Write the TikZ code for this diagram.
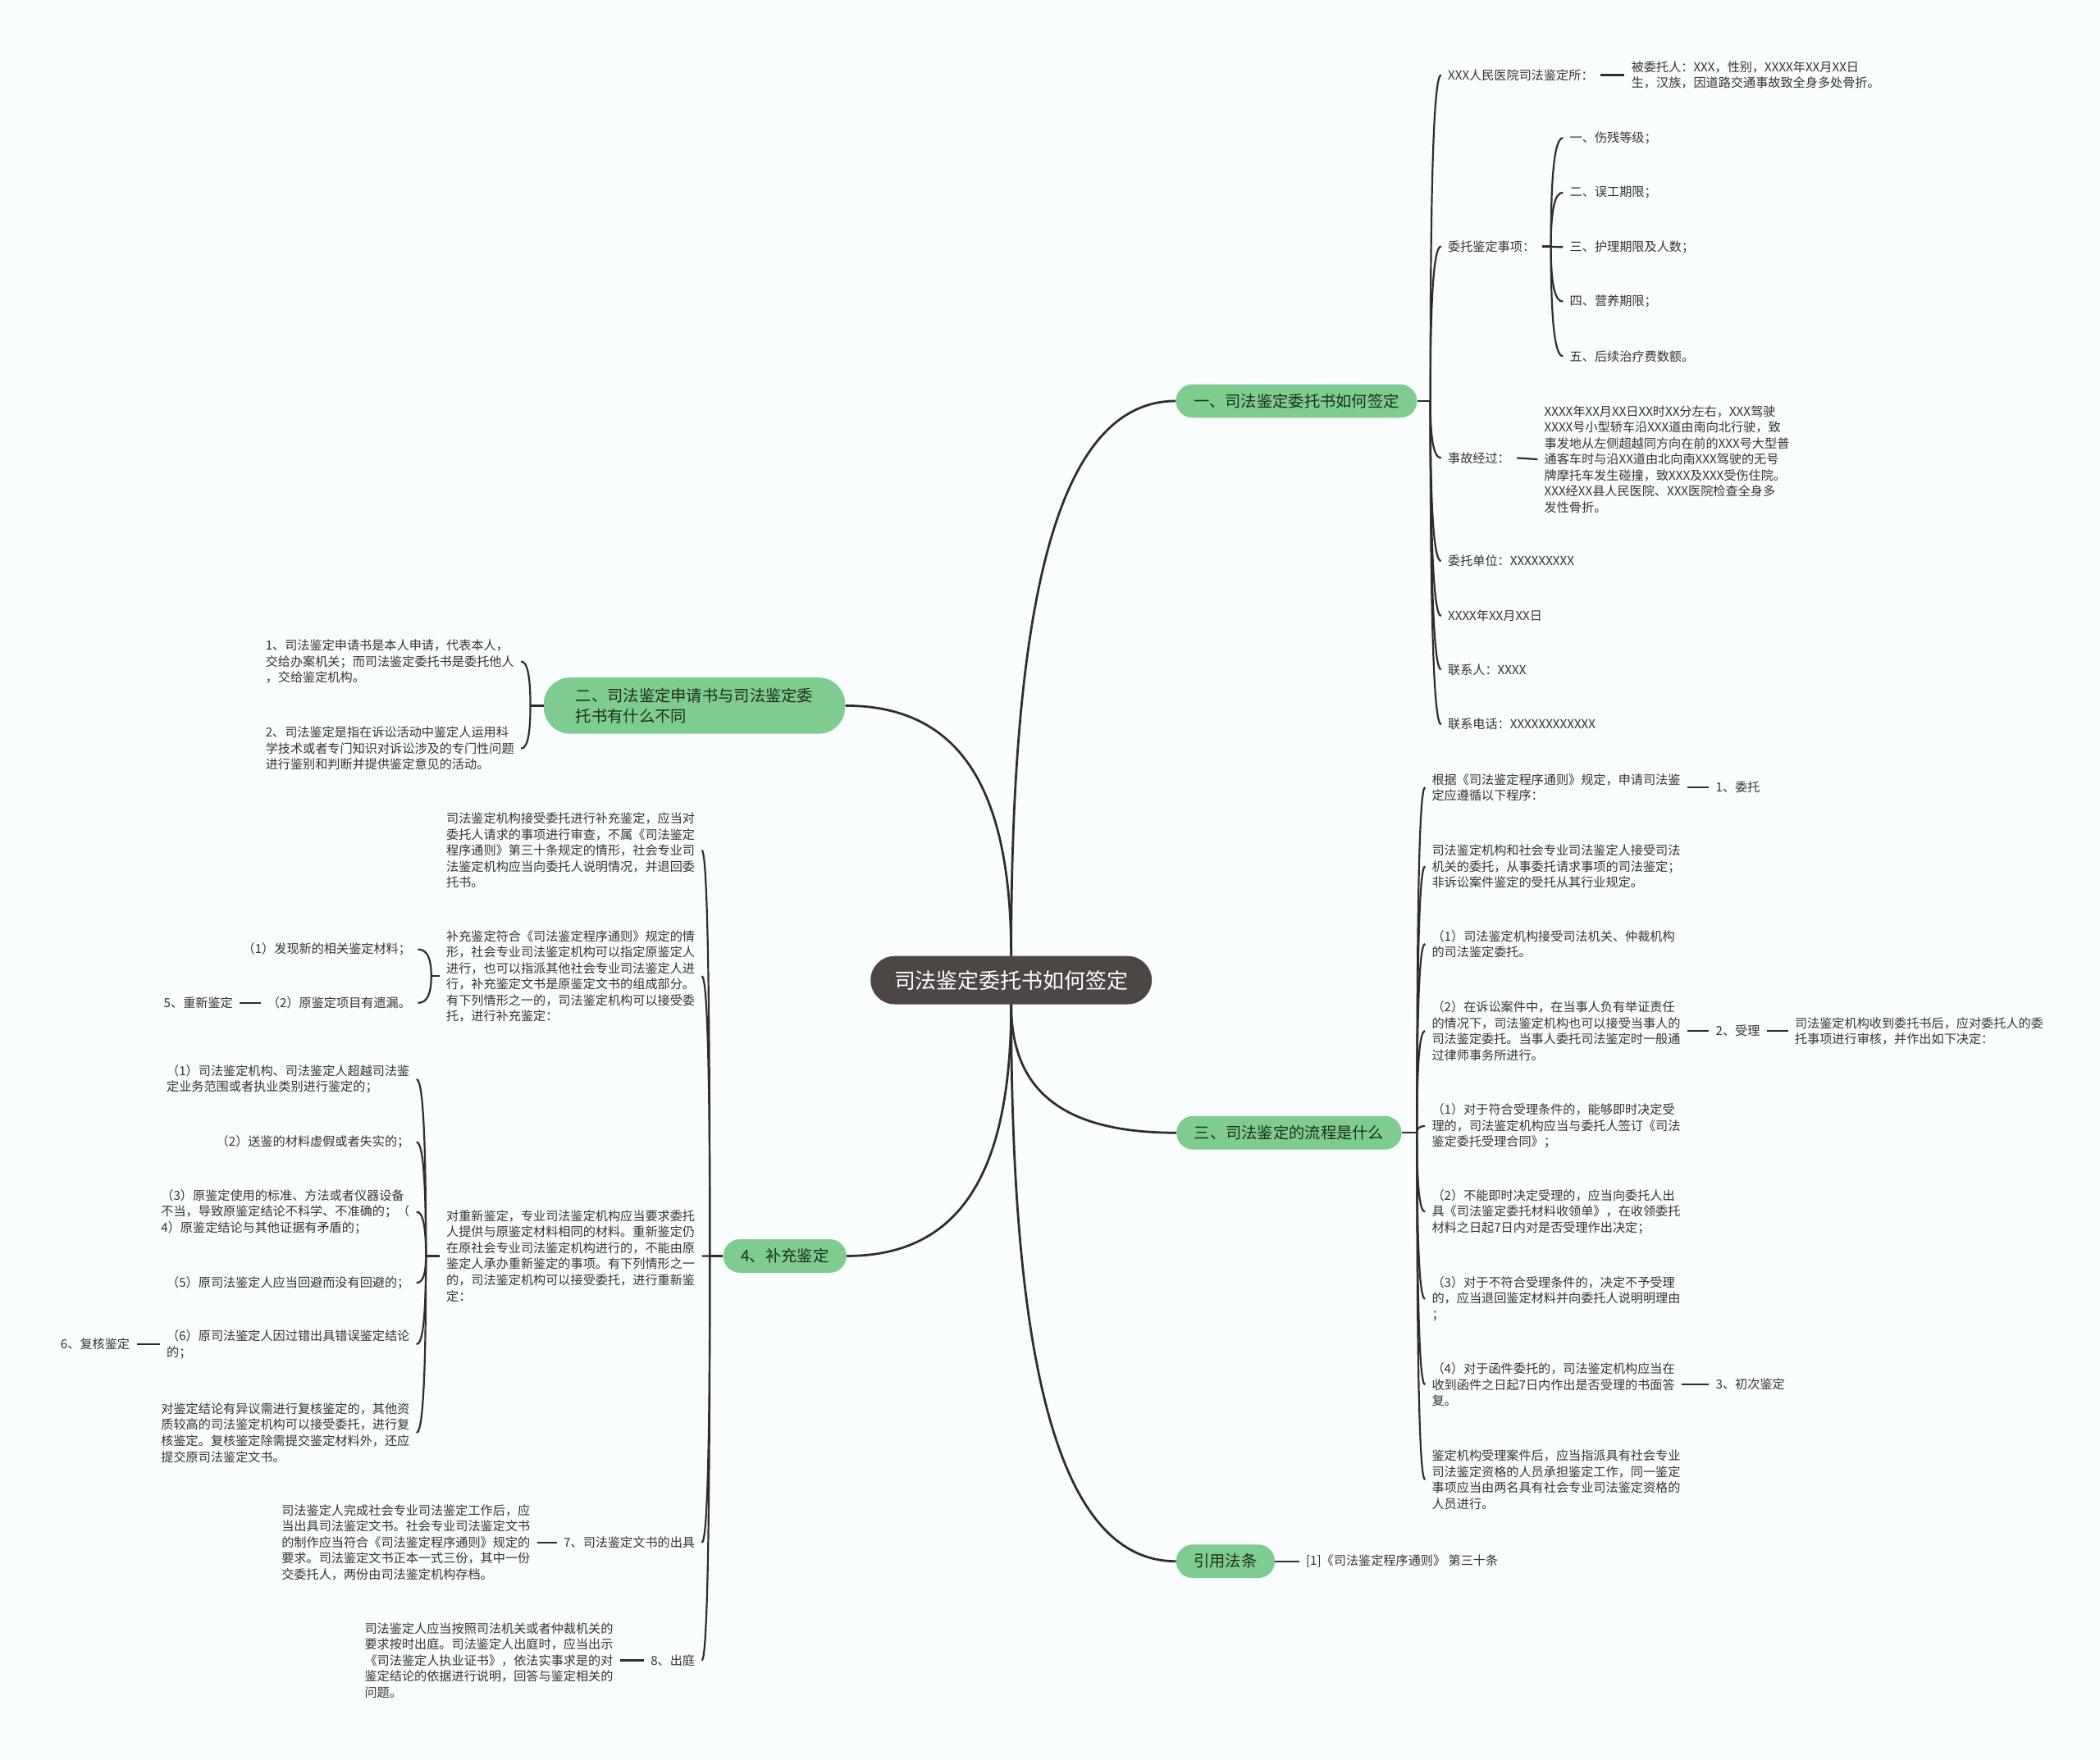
\documentclass[tikz,border=0pt]{standalone}
\usepackage{fontspec}
\setmainfont{Noto Sans CJK SC}
\usepackage{tikz}
\usepackage{xcolor}
\usetikzlibrary{calc}
\definecolor{cBg}{RGB}{250,253,253}
\definecolor{cInk}{RGB}{51,51,51}
\definecolor{cLine}{RGB}{45,45,45}
\definecolor{cTopic}{RGB}{126,204,144}
\definecolor{cTopicInk}{RGB}{28,46,33}
\definecolor{cRoot}{RGB}{76,70,68}
\tikzset{
	root/.style ={rectangle, rounded corners=0.9cm, minimum width=10.5cm, minimum height=1.8cm, fill=cRoot, text=white, font=\fontsize{22.6pt}{27pt}\selectfont},
	topic/.style={rectangle, rounded corners=0.62cm, minimum height=1.25cm, inner xsep=0.66cm, fill=cTopic, text=cTopicInk, font=\fontsize{16.8pt}{21.3pt}\selectfont},
	leaf/.style ={align=left, inner xsep=0.25cm, inner ysep=0.1cm, text=cInk, font=\fontsize{13.2pt}{17pt}\selectfont},
	% connectors: first down/up, then bend into the target
	limb/.style ={to path={.. controls ($(\tikztostart)!.64!(\tikztostart |- \tikztotarget)$) and ($(\tikztostart |- \tikztotarget)!.28!(\tikztotarget)$) .. (\tikztotarget)}},
	wire/.style ={draw=cLine, line width=1.9pt},
}
\begin{document}
\begin{tikzpicture}[x=0.05cm, y=-0.05cm]
	\fill[cBg] (0,0) rectangle (1568,1314);
	\useasboundingbox (0,0) rectangle (1568,1314);

	\node[root] (root) at (755,732) {司法鉴定委托书如何签定};
	\node[topic] (b1) at (968,299.5) {一、司法鉴定委托书如何签定};
	\node[topic, align=left, minimum height=2.1cm, inner xsep=1.2cm, rounded corners=1cm] (b2) at (518.5,527) {二、司法鉴定申请书与司法鉴定委\\托书有什么不同};
	\node[topic] (b3) at (962.5,846) {三、司法鉴定的流程是什么};
	\node[topic] (b4) at (586,938) {4、补充鉴定};
	\node[topic] (b5) at (915,1166) {引用法条};

	% branch one
	\coordinate (j1) at (1068,299.5);
	\node[leaf, anchor=west] (c11) at (1076,56) {XXX人民医院司法鉴定所：};
	\node[leaf, anchor=west] (d11) at (1213,56) {被委托人：XXX，性别，XXXX年XX月XX日\\生，汉族，因道路交通事故致全身多处骨折。};
	\node[leaf, anchor=west] (c12) at (1076,184) {委托鉴定事项：};
	\coordinate (j12) at (1158,184);
	\foreach \t [count=\i] in {一、伤残等级；,二、误工期限；,三、护理期限及人数；,四、营养期限；,五、后续治疗费数额。}
		\node[leaf, anchor=west] (s\i) at (1167,{103+40.75*(\i-1)}) {\t};
	\node[leaf, anchor=west] (c13) at (1076,342) {事故经过：};
	\node[leaf, anchor=west] (d13) at (1148,343) {XXXX年XX月XX日XX时XX分左右，XXX驾驶\\XXXX号小型轿车沿XXX道由南向北行驶，致\\事发地从左侧超越同方向在前的XXX号大型普\\通客车时与沿XX道由北向南XXX驾驶的无号\\牌摩托车发生碰撞，致XXX及XXX受伤住院。\\XXX经XX县人民医院、XXX医院检查全身多\\发性骨折。};
	\node[leaf, anchor=west] (c14) at (1076,419) {委托单位：XXXXXXXXX};
	\node[leaf, anchor=west] (c15) at (1076,460) {XXXX年XX月XX日};
	\node[leaf, anchor=west] (c16) at (1076,500) {联系人：XXXX};
	\node[leaf, anchor=west] (c17) at (1076,541) {联系电话：XXXXXXXXXXXX};

	% branch two
	\coordinate (j2) at (396,527);
	\node[leaf, anchor=east] (e21) at (389,494) {1、司法鉴定申请书是本人申请，代表本人，\\交给办案机关；而司法鉴定委托书是委托他人\\，交给鉴定机构。};
	\node[leaf, anchor=east] (e22) at (389,559) {2、司法鉴定是指在诉讼活动中鉴定人运用科\\学技术或者专门知识对诉讼涉及的专门性问题\\进行鉴别和判断并提供鉴定意见的活动。};

	% branch three
	\coordinate (j3) at (1058,846);
	\node[leaf, anchor=west] (f31) at (1064,588) {根据《司法鉴定程序通则》规定，申请司法鉴\\定应遵循以下程序：};
	\node[leaf, anchor=west] (g31) at (1276,588) {1、委托};
	\node[leaf, anchor=west] (f32) at (1064,647) {司法鉴定机构和社会专业司法鉴定人接受司法\\机关的委托，从事委托请求事项的司法鉴定；\\非诉讼案件鉴定的受托从其行业规定。};
	\node[leaf, anchor=west] (f33) at (1064,705) {（1）司法鉴定机构接受司法机关、仲裁机构\\的司法鉴定委托。};
	\node[leaf, anchor=west] (f34) at (1064,770) {（2）在诉讼案件中，在当事人负有举证责任\\的情况下，司法鉴定机构也可以接受当事人的\\司法鉴定委托。当事人委托司法鉴定时一般通\\过律师事务所进行。};
	\node[leaf, anchor=west] (g34) at (1276,770) {2、受理};
	\node[leaf, anchor=west] (h34) at (1335,770) {司法鉴定机构收到委托书后，应对委托人的委\\托事项进行审核，并作出如下决定：};
	\node[leaf, anchor=west] (f35) at (1064,841) {（1）对于符合受理条件的，能够即时决定受\\理的，司法鉴定机构应当与委托人签订《司法\\鉴定委托受理合同》；};
	\node[leaf, anchor=west] (f36) at (1064,905) {（2）不能即时决定受理的，应当向委托人出\\具《司法鉴定委托材料收领单》，在收领委托\\材料之日起7日内对是否受理作出决定；};
	\node[leaf, anchor=west] (f37) at (1064,970) {（3）对于不符合受理条件的，决定不予受理\\的，应当退回鉴定材料并向委托人说明明理由\\；};
	\node[leaf, anchor=west] (f38) at (1064,1034) {（4）对于函件委托的，司法鉴定机构应当在\\收到函件之日起7日内作出是否受理的书面答\\复。};
	\node[leaf, anchor=west] (g38) at (1276,1034) {3、初次鉴定};
	\node[leaf, anchor=west] (f39) at (1064,1105) {鉴定机构受理案件后，应当指派具有社会专业\\司法鉴定资格的人员承担鉴定工作，同一鉴定\\事项应当由两名具有社会专业司法鉴定资格的\\人员进行。};

	% branch 4
	\coordinate (j4) at (530,938);
	\node[leaf, anchor=east] (k41) at (524,635) {司法鉴定机构接受委托进行补充鉴定，应当对\\委托人请求的事项进行审查，不属《司法鉴定\\程序通则》第三十条规定的情形，社会专业司\\法鉴定机构应当向委托人说明情况，并退回委\\托书。};
	\node[leaf, anchor=east] (k42) at (524,729) {补充鉴定符合《司法鉴定程序通则》规定的情\\形，社会专业司法鉴定机构可以指定原鉴定人\\进行，也可以指派其他社会专业司法鉴定人进\\行，补充鉴定文书是原鉴定文书的组成部分。\\有下列情形之一的，司法鉴定机构可以接受委\\托，进行补充鉴定：};
	\coordinate (j42) at (322,729);
	\node[leaf, anchor=east] (m1) at (312,709) {（1）发现新的相关鉴定材料；};
	\node[leaf, anchor=east] (m2) at (312,749) {（2）原鉴定项目有遗漏。};
	\node[leaf, anchor=east] (m2x) at (179,749) {5、重新鉴定};
	\node[leaf, anchor=east] (k43) at (524,938) {对重新鉴定，专业司法鉴定机构应当要求委托\\人提供与原鉴定材料相同的材料。重新鉴定仍\\在原社会专业司法鉴定机构进行的，不能由原\\鉴定人承办重新鉴定的事项。有下列情形之一\\的，司法鉴定机构可以接受委托，进行重新鉴\\定：};
	\coordinate (j43) at (318,938);
	\node[leaf, anchor=east] (n1) at (311,806) {（1）司法鉴定机构、司法鉴定人超越司法鉴\\定业务范围或者执业类别进行鉴定的；};
	\node[leaf, anchor=east] (n2) at (311,853) {（2）送鉴的材料虚假或者失实的；};
	\node[leaf, anchor=east] (n3) at (311,905) {（3）原鉴定使用的标准、方法或者仪器设备\\不当，导致原鉴定结论不科学、不准确的；（\\4）原鉴定结论与其他证据有矛盾的；};
	\node[leaf, anchor=east] (n4) at (311,958) {（5）原司法鉴定人应当回避而没有回避的；};
	\node[leaf, anchor=east] (n5) at (311,1004) {（6）原司法鉴定人因过错出具错误鉴定结论\\的；};
	\node[leaf, anchor=east] (n5x) at (102,1004) {6、复核鉴定};
	\node[leaf, anchor=east] (n6) at (311,1070) {对鉴定结论有异议需进行复核鉴定的，其他资\\质较高的司法鉴定机构可以接受委托，进行复\\核鉴定。复核鉴定除需提交鉴定材料外，还应\\提交原司法鉴定文书。};
	\node[leaf, anchor=east] (k44) at (524,1152) {7、司法鉴定文书的出具};
	\node[leaf, anchor=east] (p44) at (401,1152) {司法鉴定人完成社会专业司法鉴定工作后，应\\当出具司法鉴定文书。社会专业司法鉴定文书\\的制作应当符合《司法鉴定程序通则》规定的\\要求。司法鉴定文书正本一式三份，其中一份\\交委托人，两份由司法鉴定机构存档。};
	\node[leaf, anchor=east] (k45) at (524,1240) {8、出庭};
	\node[leaf, anchor=east] (p45) at (463,1240) {司法鉴定人应当按照司法机关或者仲裁机关的\\要求按时出庭。司法鉴定人出庭时，应当出示\\《司法鉴定人执业证书》，依法实事求是的对\\鉴定结论的依据进行说明，回答与鉴定相关的\\问题。};

	% cited law
	\node[leaf, anchor=west] (q5) at (970,1166) {[1]《司法鉴定程序通则》 第三十条};

	% connectors
	\draw[wire, line width=2.4pt] (root.north) to[limb] (b1.west);
	\draw[wire, line width=2.4pt] (root.north) to[limb] (b2.east);
	\draw[wire, line width=2.4pt] (root.south) to[limb] (b3.west);
	\draw[wire, line width=2.4pt] (root.south) to[limb] (b4.east);
	\draw[wire, line width=2.4pt] (root.south) to[limb] (b5.west);

	\draw[wire] (b1.east) -- (j1);
	\foreach \c in {c11,c12,c13,c14,c15,c16,c17} \draw[wire] (j1) to[limb] (\c.west);
	\draw[wire] (c11.east) -- (d11.west);
	\draw[wire] (c12.east) -- (j12);
	\foreach \i in {1,...,5} \draw[wire] (j12) to[limb] (s\i.west);
	\draw[wire] (c13.east) -- (d13.west);

	\draw[wire] (b2.west) -- (j2);
	\foreach \c in {e21,e22} \draw[wire] (j2) to[limb] (\c.east);

	\draw[wire] (b3.east) -- (j3);
	\foreach \c in {f31,f32,f33,f34,f35,f36,f37,f38,f39} \draw[wire] (j3) to[limb] (\c.west);
	\draw[wire] (f31.east) -- (g31.west);
	\draw[wire] (f34.east) -- (g34.west);
	\draw[wire] (g34.east) -- (h34.west);
	\draw[wire] (f38.east) -- (g38.west);

	\draw[wire] (b4.west) -- (j4);
	\foreach \c in {k41,k42,k43,k44,k45} \draw[wire] (j4) to[limb] (\c.east);
	\draw[wire] (k42.west) -- (j42);
	\foreach \c in {m1,m2} \draw[wire] (j42) to[limb] (\c.east);
	\draw[wire] (m2.west) -- (m2x.east);
	\draw[wire] (k43.west) -- (j43);
	\foreach \c in {n1,n2,n3,n4,n5,n6} \draw[wire] (j43) to[limb] (\c.east);
	\draw[wire] (n5.west) -- (n5x.east);
	\draw[wire] (k44.west) -- (p44.east);
	\draw[wire] (k45.west) -- (p45.east);

	\draw[wire] (b5.east) -- (q5.west);
\end{tikzpicture}
\end{document}
